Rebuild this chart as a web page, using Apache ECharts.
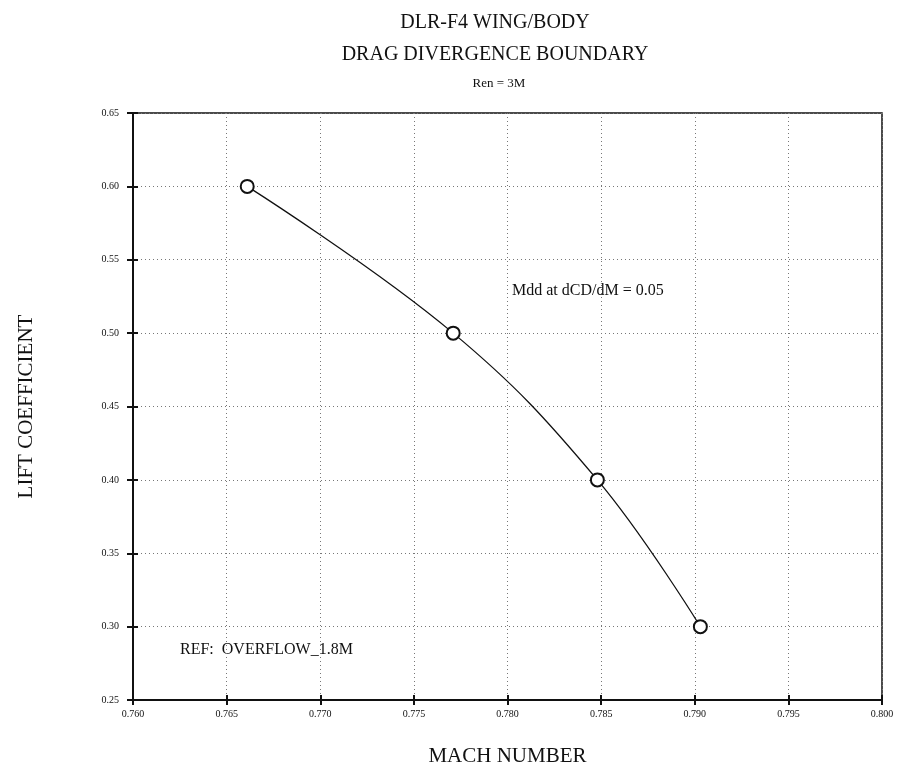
<!DOCTYPE html>
<html>
<head>
<meta charset="utf-8">
<title>DLR-F4 Wing/Body Drag Divergence Boundary</title>
<script src="https://cdn.jsdelivr.net/npm/echarts@6/dist/echarts.min.js"></script>
<style>
  html, body { margin: 0; padding: 0; background: #fff; }
  #chart { width: 901px; height: 778px; }
</style>
</head>
<body>
<div id="chart"></div>
<script>
// Drag-divergence Mach number vs lift coefficient (Mdd at dCD/dM = 0.05)
const machNumbers = [0.7661, 0.7771, 0.7848, 0.7903];
const liftCoefficients = [0.600, 0.500, 0.400, 0.300];

const xRange = { min: 0.760, max: 0.800, step: 0.005 };
const yRange = { min: 0.25, max: 0.65, step: 0.05 };

const titleLines = ['DLR-F4 WING/BODY', 'DRAG DIVERGENCE BOUNDARY', 'Ren = 3M'];
const noteText = 'Mdd at dCD/dM = 0.05';
const refText = 'REF:  OVERFLOW_1.8M';
const xName = 'MACH NUMBER';
const yName = 'LIFT COEFFICIENT';

const serif = '"Liberation Serif", "DejaVu Serif", serif';
const points = machNumbers.map((m, i) => [m, liftCoefficients[i]]);

const chart = echarts.init(document.getElementById('chart'), null, { renderer: 'canvas' });

const baseX = {
  type: 'value', min: xRange.min, max: xRange.max, interval: xRange.step
};
const baseY = {
  type: 'value', min: yRange.min, max: yRange.max, interval: yRange.step
};

chart.setOption({
  animation: false,
  backgroundColor: '#fff',
  title: [
    { text: titleLines[0], left: 490, top: 8, textAlign: 'center',
      textStyle: { fontFamily: serif, fontSize: 20, fontWeight: 'normal', color: '#111' } },
    { text: titleLines[1], left: 490, top: 40, textAlign: 'center',
      textStyle: { fontFamily: serif, fontSize: 20, fontWeight: 'normal', color: '#111' } },
    { text: titleLines[2], left: 494, top: 72, textAlign: 'center',
      textStyle: { fontFamily: serif, fontSize: 13, fontWeight: 'normal', color: '#111' } }
  ],
  grid: {
    left: 133, right: 19, top: 113, bottom: 78,
    show: true, borderColor: '#111', borderWidth: 1.5, backgroundColor: 'transparent'
  },
  xAxis: [
    Object.assign({}, baseX, {
      name: xName, nameLocation: 'middle', nameGap: 46,
      nameTextStyle: { fontFamily: serif, fontSize: 21, color: '#111' },
      axisLine: { show: true, lineStyle: { color: '#111', width: 2 } },
      axisTick: { show: true, inside: false, length: 5, lineStyle: { color: '#111', width: 2 } },
      axisLabel: { fontFamily: serif, fontSize: 10, color: '#111', margin: 9,
        formatter: v => v.toFixed(3) },
      splitLine: { show: true, lineStyle: { color: '#777', type: [1, 3], width: 1 } }
    }),
    Object.assign({}, baseX, {
      position: 'bottom',
      axisLine: { show: false },
      axisTick: { show: true, inside: true, length: 5, lineStyle: { color: '#111', width: 2 } },
      axisLabel: { show: false },
      splitLine: { show: false }
    })
  ],
  yAxis: [
    Object.assign({}, baseY, {
      name: yName, nameLocation: 'middle', nameGap: 96, nameRotate: 90,
      nameTextStyle: { fontFamily: serif, fontSize: 21, color: '#111' },
      axisLine: { show: true, lineStyle: { color: '#111', width: 2 } },
      axisTick: { show: true, inside: false, length: 6, lineStyle: { color: '#111', width: 2 } },
      axisLabel: { fontFamily: serif, fontSize: 10, color: '#111', margin: 14,
        formatter: v => v.toFixed(2) },
      splitLine: { show: true, lineStyle: { color: '#777', type: [1, 3], width: 1 } }
    }),
    Object.assign({}, baseY, {
      position: 'left',
      axisLine: { show: false },
      axisTick: { show: true, inside: true, length: 5, lineStyle: { color: '#111', width: 2 } },
      axisLabel: { show: false },
      splitLine: { show: false }
    })
  ],
  series: [
    {
      type: 'line',
      data: points,
      smooth: 0.4,
      symbol: 'circle',
      symbolSize: 13,
      itemStyle: { color: '#fff', borderColor: '#111', borderWidth: 2 },
      lineStyle: { color: '#111', width: 1.3 },
      z: 5
    }
  ],
  graphic: [
    { type: 'text', left: 512, top: 283,
      style: { text: noteText, font: '16px ' + serif, fill: '#111' } },
    { type: 'text', left: 180, top: 642,
      style: { text: refText, font: '16px ' + serif, fill: '#111' } }
  ]
});
</script>
</body>
</html>
